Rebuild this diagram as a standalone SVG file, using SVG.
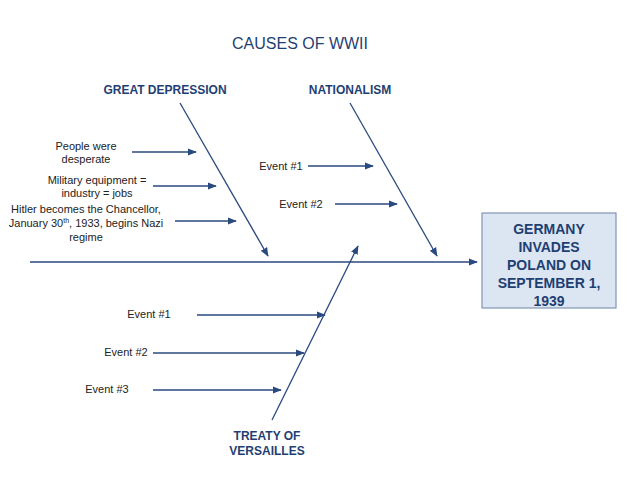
<svg xmlns="http://www.w3.org/2000/svg" width="638" height="478" viewBox="0 0 638 478">
<defs>
<marker id="a" viewBox="0 0 10 10" refX="9" refY="5" markerWidth="7" markerHeight="7" orient="auto"><path d="M0,1 L10,5 L0,9 z" fill="#2a4a7f"/></marker>
<style>
line{stroke:#2a4a7f;stroke-width:1.3;marker-end:url(#a)}
text{font-family:"Liberation Sans",Arial,sans-serif;text-anchor:middle}
.s{font-size:11px;fill:#222}
.h{font-size:12px;font-weight:bold;fill:#1f3f73}
</style>
</defs>
<rect width="638" height="478" fill="#fff"/>
<text x="300" y="49" font-size="16" fill="#1f3f73">CAUSES OF WWII</text>
<g id="effect"><rect x="482" y="213" width="134" height="95" fill="#dce6f2" stroke="#8095b5" stroke-width="1.2"/>
<text class="h" font-size="14" style="font-size:14px"><tspan x="549" y="234">GERMANY</tspan><tspan x="549" y="252">INVADES</tspan><tspan x="549" y="270">POLAND ON</tspan><tspan x="549" y="288">SEPTEMBER 1,</tspan><tspan x="549" y="306">1939</tspan></text></g>
<g id="depression"><text class="h" x="165" y="94">GREAT DEPRESSION</text></g>
<g id="nationalism"><text class="h" x="350" y="94">NATIONALISM</text></g>
<g id="treaty"><text class="h"><tspan x="267" y="440">TREATY OF</tspan><tspan x="267" y="455">VERSAILLES</tspan></text></g>
<g id="labels">
<text class="s"><tspan x="86" y="150">People were</tspan><tspan x="86" y="163">desperate</tspan></text>
<text class="s"><tspan x="97" y="184">Military equipment =</tspan><tspan x="97" y="197">industry = jobs</tspan></text>
<text class="s"><tspan x="86" y="213">Hitler becomes the Chancellor,</tspan><tspan x="86" y="227">January 30<tspan font-size="7" dy="-4">th</tspan><tspan dy="4">, 1933, begins Nazi</tspan></tspan><tspan x="86" y="241">regime</tspan></text>
<text class="s" x="281" y="170">Event #1</text>
<text class="s" x="301" y="208">Event #2</text>
<text class="s" x="149" y="318">Event #1</text>
<text class="s" x="126" y="356">Event #2</text>
<text class="s" x="107" y="393">Event #3</text>
</g>
<g id="connectors">
<line x1="30" y1="262" x2="477" y2="262"/>
<line x1="180" y1="103" x2="268" y2="256"/>
<line x1="350" y1="103" x2="437" y2="256"/>
<line x1="272" y1="420" x2="358" y2="246"/>
<line x1="132" y1="152" x2="196" y2="152"/>
<line x1="153" y1="186" x2="216" y2="186"/>
<line x1="175" y1="221" x2="236" y2="221"/>
<line x1="308" y1="166" x2="373" y2="166"/>
<line x1="335" y1="204" x2="397" y2="204"/>
<line x1="197" y1="315" x2="325" y2="315"/>
<line x1="153" y1="353" x2="304" y2="353"/>
<line x1="153" y1="390" x2="281" y2="390"/>
</g>
</svg>
